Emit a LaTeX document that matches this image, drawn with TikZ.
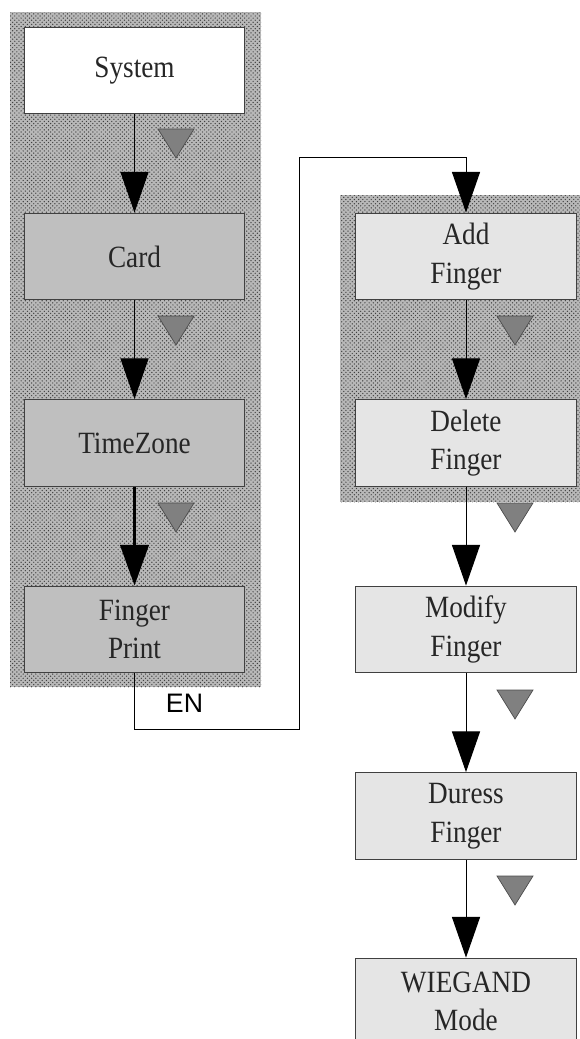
\documentclass[tikz,border=0pt]{standalone}
\usepackage{fontspec}
\setmainfont{Liberation Serif}[FakeStretch=0.88]
\setsansfont{Liberation Sans}
\usetikzlibrary{arrows.meta,patterns}

\begin{document}
\begin{tikzpicture}[x=0.025cm,y=-0.025cm,
  box/.style={draw=black!75, line width=0.7pt, minimum width=5.52cm, minimum height=2.17cm,
    inner sep=0pt, align=center, text=black!85, font=\fontsize{22}{27.5}\selectfont},
  dark/.style={box, fill=black!25},
  light/.style={box, fill=black!10},
  panel/.style={fill=black!28, postaction={pattern=crosshatch dots, pattern color=black!75}},
  flow/.style={draw=black, line width=0.7pt, -{Triangle[width=20pt,length=29pt]}},
  marker/.style={fill=black!50, draw=black!70, line width=0.5pt}]
\useasboundingbox (0,0) rectangle (579,1039);
% shaded groups
\fill[panel] (10,12) rectangle (261,687);
\fill[panel] (340,195) rectangle (582,502);
% left column
\node (sys) at (134.5,70.5)  [box,fill=white] {System};
\node (card) at (134.5,256.5) [dark] {Card};
\node (tz) at (134.5,443)     [dark] {TimeZone};
\node (fp) at (134.5,629.5)   [dark] {Finger\\Print};
% right column
\node (add) at (466,256.5) [light] {Add\\Finger};
\node (del) at (466,443)   [light] {Delete\\Finger};
\node (mod) at (466,629.5) [light] {Modify\\Finger};
\node (dur) at (466,816)   [light] {Duress\\Finger};
\node (wie) at (466,1001.5) [light] {WIEGAND\\Mode};
\coordinate (c1) at (299,729);
\coordinate (c2) at (299,157);
\node (en) at (184.5,703) [font=\fontsize{19}{19}\sffamily] {EN};
\draw [flow] (sys) -- (card);
\draw [flow] (card) -- (tz);
\draw [flow, line width=2.8pt] (tz) -- (fp);
\draw [flow] (fp.south) |- (c1) -- (c2) -| (add.north);
\draw [flow] (add) -- (del);
\draw [flow] (del) -- (mod);
\draw [flow] (mod) -- (dur);
\draw [flow] (dur) -- (wie);
% gray triangles
\foreach \x/\y in {158/129, 158/316, 158/503, 497/316, 497/503, 497/690, 497/876}
  \draw [marker] (\x,\y) -- ++(36,0) -- ++(-18,29) -- cycle;
\end{tikzpicture}
\end{document}
